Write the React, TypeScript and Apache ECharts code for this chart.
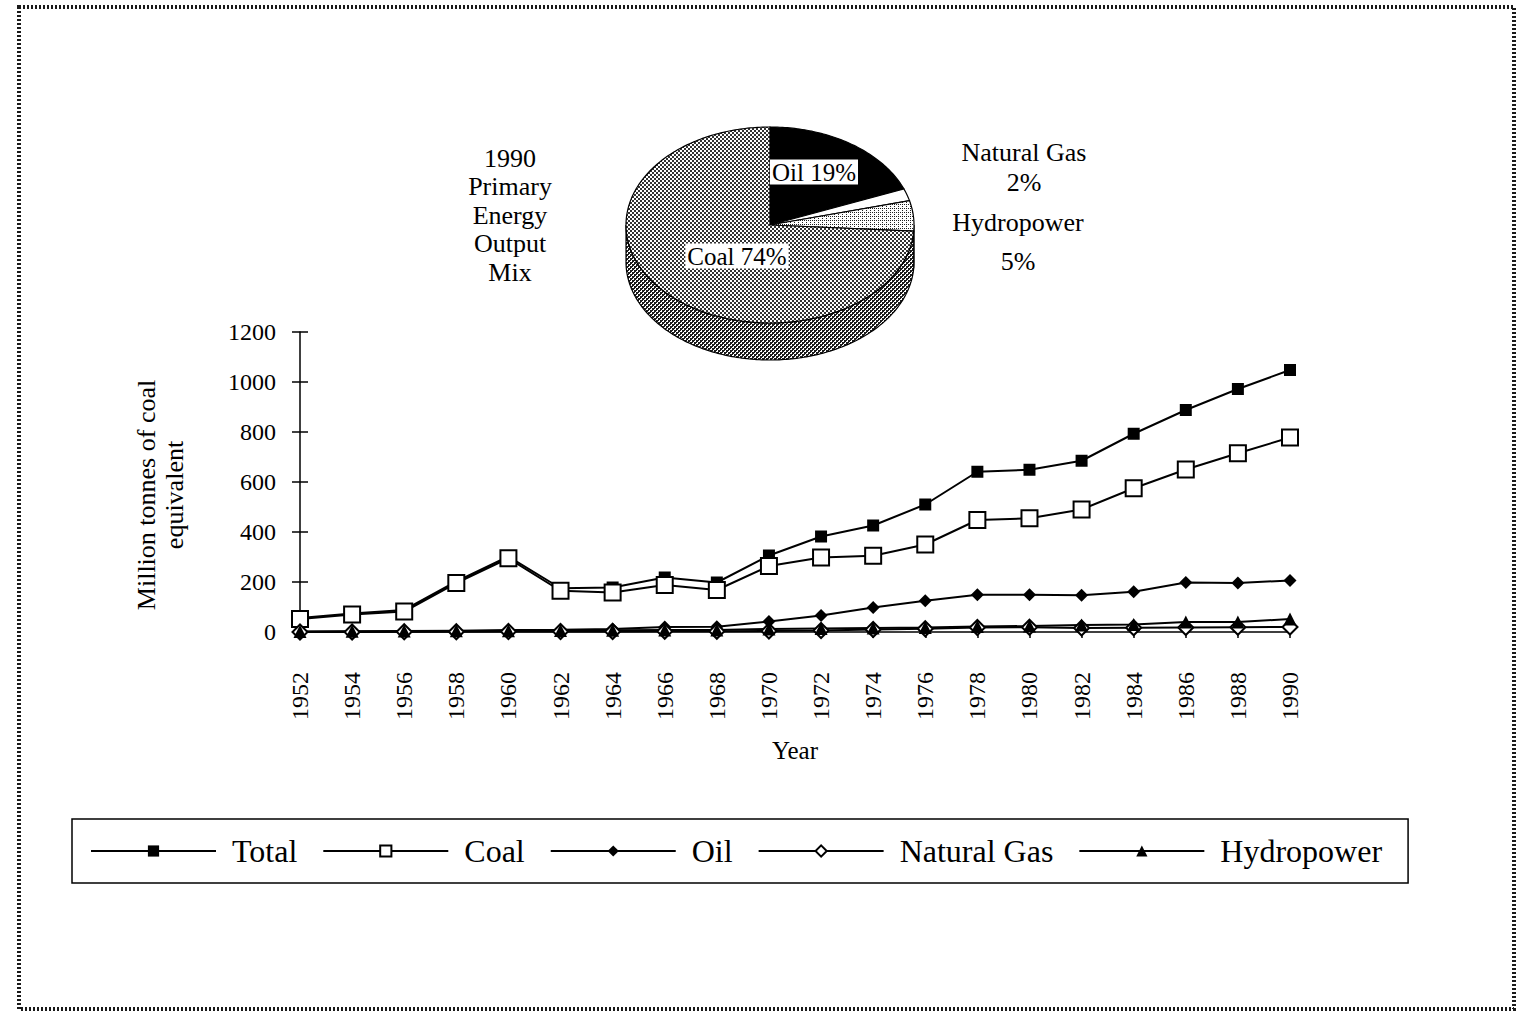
import React, { useEffect, useRef } from 'react';
import * as echarts from 'echarts';

// ---- line chart data (million tonnes of coal equivalent) ----
const years = ['1952', '1954', '1956', '1958', '1960', '1962', '1964', '1966', '1968', '1970',
  '1972', '1974', '1976', '1978', '1980', '1982', '1984', '1986', '1988', '1990'];
const totalOutput = [56, 74, 88, 202, 302, 175, 178, 218, 198, 306, 382, 426, 510, 641, 649, 685, 793, 888, 972, 1048];
const coalOutput = [52, 70, 82, 196, 295, 165, 158, 188, 168, 264, 298, 305, 350, 448, 455, 490, 575, 650, 715, 778];
const oilOutput = [1, 2, 2, 4, 8, 9, 12, 20, 21, 42, 66, 98, 125, 149, 149, 147, 161, 198, 196, 206];
const gasOutput = [0, 0, 1, 1, 2, 2, 2, 3, 3, 4, 6, 10, 13, 18, 19, 16, 17, 18, 19, 20];
const hydroOutput = [2, 3, 4, 5, 5, 6, 7, 8, 8, 12, 14, 16, 18, 22, 24, 28, 30, 40, 40, 52];

// ---- 1990 output mix (percent) ----
const mixNames = ['Oil', 'Natural Gas', 'Hydropower', 'Coal'];
const mixShares = [19, 2, 5, 74];
const mixTitle = '1990\nPrimary\nEnergy\nOutput\nMix';

const yTicks = { min: 0, max: 1200, interval: 200 };

const SERIF = "'Liberation Serif', 'Times New Roman', Times, serif";

// Small repeating dither tiles used as pattern fills
function tile(size: number, fg: string, cells: number[][]) {
  const rects = cells
    .map(([x, y, w, h]) => `<rect x="${x}" y="${y}" width="${w}" height="${h}" fill="${fg}"/>`)
    .join('');
  const svg = `<svg xmlns="http://www.w3.org/2000/svg" width="${size}" height="${size}"><rect width="${size}" height="${size}" fill="#ffffff"/>${rects}</svg>`;
  return {
    image: 'data:image/svg+xml;charset=utf-8,' + encodeURIComponent(svg),
    repeat: 'repeat',
    imageWidth: size,
    imageHeight: size,
  };
}

const coalTop = tile(4, '#333', [[0, 0, 2, 2], [2, 2, 2, 2]]);
const coalSide = tile(4, '#1c1c1c', [[0, 0, 2, 2], [2, 2, 2, 2], [2, 0, 1, 1], [0, 2, 1, 1]]);
const hydroTop = tile(4, '#222', [[0, 0, 1, 1], [2, 2, 1, 1], [2, 0, 1, 1]]);

const topFill: Record<string, any> = { Oil: '#000', 'Natural Gas': '#fff', Hydropower: hydroTop, Coal: coalTop };
const sideFill: Record<string, any> = { Oil: '#000', 'Natural Gas': '#fff', Hydropower: coalSide, Coal: coalSide };

// Disc geometry (pixels) and label placement
const DISC = { cx: 770, cy: 225, rx: 144, ry: 98, depth: 37 };
const mixLabelLayout: Record<string, any> = {
  Oil: { inside: true, x: 814, y: 172 },
  Coal: { inside: true, x: 737, y: 256 },
  'Natural Gas': { inside: false, x: 1024, y: 137, lineHeight: 30 },
  Hydropower: { inside: false, x: 1018, y: 203, lineHeight: 39 },
};

const mixTotal = mixShares.reduce((a, b) => a + b, 0);
const mixStart = mixShares.map((_, i) => mixShares.slice(0, i).reduce((a, b) => a + b, 0));

function rimPoint(tDeg: number, dy = 0) {
  const t = (tDeg * Math.PI) / 180;
  return [DISC.cx + DISC.rx * Math.sin(t), DISC.cy - DISC.ry * Math.cos(t) + dy];
}

function arcPoints(t0: number, t1: number, dy = 0) {
  const pts: number[][] = [];
  const steps = Math.max(2, Math.ceil(Math.abs(t1 - t0)));
  for (let k = 0; k <= steps; k++) pts.push(rimPoint(t0 + ((t1 - t0) * k) / steps, dy));
  return pts;
}

function renderDiscSlice(params: any, api: any) {
  const i = params.dataIndex;
  const name = mixNames[i];
  const value = api.value(0);
  const t0 = (mixStart[i] / mixTotal) * 360;
  const t1 = t0 + (value / mixTotal) * 360;
  const children: any[] = [];

  // visible front wall of the disc
  const a = Math.max(t0, 90);
  const b = Math.min(t1, 270);
  if (a < b) {
    const upper = arcPoints(a, b);
    const lower = arcPoints(b, a, DISC.depth);
    children.push({
      type: 'polygon',
      z2: 1,
      shape: { points: upper.concat(lower) },
      style: { fill: sideFill[name], stroke: '#000', lineWidth: 1.2 },
    });
  }

  // top face
  children.push({
    type: 'polygon',
    z2: 5,
    shape: { points: [[DISC.cx, DISC.cy]].concat(arcPoints(t0, t1)) },
    style: { fill: topFill[name], stroke: '#000', lineWidth: 1.2 },
  });

  const lab = mixLabelLayout[name];
  if (lab.inside) {
    children.push({
      type: 'text',
      z2: 20,
      style: {
        text: `${name} ${value}%`,
        x: lab.x,
        y: lab.y,
        align: 'center',
        verticalAlign: 'middle',
        fill: '#000',
        backgroundColor: '#fff',
        padding: [0, 2, 0, 2],
        font: `25px ${SERIF}`,
      },
    });
  } else {
    children.push({
      type: 'text',
      z2: 20,
      style: {
        text: `${name}\n${value}%`,
        x: lab.x,
        y: lab.y,
        align: 'center',
        verticalAlign: 'top',
        lineHeight: lab.lineHeight,
        fill: '#000',
        font: `26px ${SERIF}`,
      },
    });
  }
  return { type: 'group', children };
}

function lineSeries(name: string, data: number[], symbol: string, size: number, filled: boolean) {
  return {
    name,
    type: 'line',
    data,
    symbol,
    symbolSize: size,
    showAllSymbol: true,
    lineStyle: { color: '#000', width: 2 },
    itemStyle: { color: filled ? '#000' : '#fff', borderColor: '#000', borderWidth: filled ? 0 : 2 },
    emphasis: { disabled: true },
  };
}

export default function App() {
  const ref = useRef<HTMLDivElement>(null);

  useEffect(() => {
    if (!ref.current) return;
    const chart = echarts.init(ref.current, null, { renderer: 'svg' });
    chart.setOption({
      animation: false,
      backgroundColor: '#fff',
      textStyle: { fontFamily: SERIF, color: '#000' },
      grid: { left: 300, right: 226, top: 332, bottom: 389, containLabel: false },
      xAxis: {
        type: 'category',
        data: years,
        boundaryGap: false,
        name: 'Year',
        nameLocation: 'middle',
        nameGap: 106,
        nameTextStyle: { fontSize: 25, fontFamily: SERIF, color: '#000' },
        axisLine: { show: true, lineStyle: { color: '#000', width: 1.5 } },
        axisTick: { show: true, length: 6, lineStyle: { color: '#000', width: 1.5 } },
        axisLabel: { rotate: 90, interval: 0, margin: 40, fontSize: 24, fontFamily: SERIF, color: '#000' },
        splitLine: { show: false },
      },
      yAxis: [
        {
          type: 'value',
          min: yTicks.min,
          max: yTicks.max,
          interval: yTicks.interval,
          position: 'left',
          name: 'Million tonnes of coal\nequivalent',
          nameLocation: 'middle',
          nameRotate: 90,
          nameGap: 112,
          nameTextStyle: { fontSize: 26, fontFamily: SERIF, color: '#000', lineHeight: 28, padding: [0, 26, 0, 0] },
          axisLine: { show: true, lineStyle: { color: '#000', width: 1.5 } },
          axisTick: { show: true, length: 8, lineStyle: { color: '#000', width: 1.5 } },
          axisLabel: {
            margin: 24,
            fontSize: 24,
            fontFamily: SERIF,
            color: '#000',
            formatter: (v: number) => String(v),
          },
          splitLine: { show: false },
        },
        {
          type: 'value',
          min: yTicks.min,
          max: yTicks.max,
          interval: yTicks.interval,
          position: 'left',
          axisLine: { show: false },
          axisTick: { show: true, inside: true, length: 8, lineStyle: { color: '#000', width: 1.5 } },
          axisLabel: { show: false },
          splitLine: { show: false },
        },
      ],
      legend: {
        data: ['Total', 'Coal', 'Oil', 'Natural Gas', 'Hydropower'],
        left: 72,
        top: 819,
        orient: 'horizontal',
        padding: [16, 26, 16, 18],
        itemGap: 25,
        itemWidth: 125,
        itemHeight: 14,
        borderColor: '#000',
        borderWidth: 1.5,
        selectedMode: false,
        textStyle: { fontSize: 32, fontFamily: SERIF, color: '#000', padding: [0, 0, 0, 11] },
      },
      graphic: [
        {
          type: 'rect',
          silent: true,
          shape: { x: 19, y: 7, width: 1495, height: 1002 },
          style: { fill: 'none', stroke: '#1a1a1a', lineWidth: 4, lineDash: [2, 2] },
        },
        {
          type: 'text',
          silent: true,
          x: 510,
          y: 144,
          style: {
            text: mixTitle,
            align: 'center',
            verticalAlign: 'top',
            lineHeight: 28.5,
            font: `26px ${SERIF}`,
            fill: '#000',
          },
        },
      ],
      series: [
        lineSeries('Total', totalOutput, 'rect', 12, true),
        lineSeries('Coal', coalOutput, 'rect', 16, false),
        lineSeries('Oil', oilOutput, 'diamond', 13, true),
        lineSeries('Natural Gas', gasOutput, 'diamond', 15, false),
        lineSeries('Hydropower', hydroOutput, 'triangle', 13, true),
        {
          name: '1990 Primary Energy Output Mix',
          type: 'custom',
          coordinateSystem: 'none',
          silent: true,
          renderItem: renderDiscSlice,
          data: mixShares.map((v, i) => ({ name: mixNames[i], value: [v] })),
        },
      ],
    });
    return () => chart.dispose();
  }, []);

  return (
    <div
      ref={ref}
      style={{ position: 'absolute', left: 0, top: 0, width: 1516, height: 1021, background: '#fff' }}
    />
  );
}
